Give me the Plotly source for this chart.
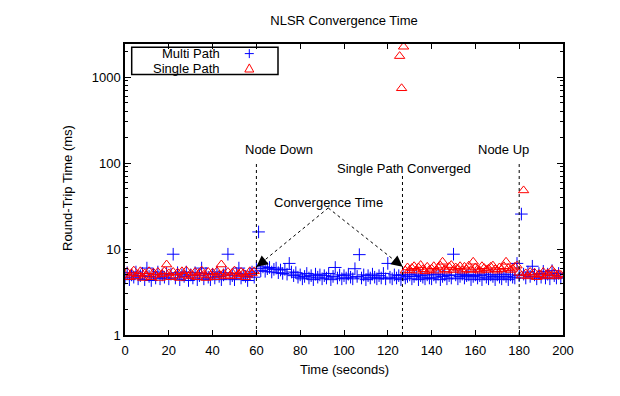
import numpy as np
import plotly.graph_objects as go

# ---------------- data ----------------
multi_t = list(range(0, 200))
multi_rtt = [
    4.6, 5.3, 4.4, 5.0, 4.7, 5.4, 4.5, 4.9, 5.2, 4.4,
    6.0, 4.8, 4.3, 5.1, 4.6, 5.4, 4.5, 5.0, 4.7, 5.2,
    4.5, 5.1, 8.7, 4.6, 5.3, 4.4, 5.0, 4.8, 5.4, 4.3,
    5.0, 4.6, 5.3, 4.4, 4.9, 6.0, 4.5, 5.2, 4.7, 4.4,
    5.1, 4.6, 5.4, 4.8, 4.4, 5.0, 5.3, 8.7, 4.5, 4.9,
    4.4, 5.2, 6.0, 4.6, 5.0, 4.8, 4.3, 5.1, 5.4, 4.7,
    5.9, 15.8, 5.6, 6.2, 5.5, 5.9, 6.1, 5.4, 5.8, 6.0,
    5.3, 5.7, 5.2, 5.8, 5.1, 6.8, 5.4, 4.9, 5.3, 4.7,
    5.0, 4.5, 4.8, 5.2, 4.6, 4.9, 4.4, 5.1, 4.7, 5.0,
    4.5, 4.9, 4.6, 5.2, 4.4, 4.8, 6.1, 4.6, 5.0, 4.5,
    4.9, 4.6, 5.1, 4.7, 4.5, 5.9, 4.8, 8.6, 4.6, 5.0,
    4.4, 4.9, 4.6, 5.1, 4.7, 4.5, 4.9, 4.6, 5.2, 4.5,
    6.8, 4.7, 4.5, 5.0, 4.6, 4.9, 4.4, 5.0, 4.6, 4.8,
    5.0, 4.5, 4.8, 5.1, 4.4, 4.9, 4.7, 4.5, 5.0, 4.6,
    4.5, 5.0, 4.7, 5.1, 4.4, 4.8, 5.0, 4.5, 4.9, 4.6,
    8.7, 5.0, 4.5, 4.8, 5.1, 4.6, 4.9, 5.0, 4.4, 4.8,
    5.0, 4.6, 4.9, 4.4, 5.1, 4.7, 4.5, 5.0, 4.8, 4.4,
    5.0, 4.7, 4.5, 5.1, 4.8, 4.4, 5.0, 4.7, 4.6, 6.8,
    4.9, 25.5, 5.1, 4.6, 5.4, 4.8, 6.3, 5.0, 4.5, 5.2,
    4.7, 5.5, 4.6, 5.1, 4.5, 5.6, 4.9, 4.6, 5.2, 4.6,
]

single_t = list(range(0, 60)) + [125.4, 126.3, 127.2] + list(range(128, 200))
single_rtt = [
    5.0, 5.4, 4.7, 5.2, 5.6, 4.8, 5.1, 5.5, 4.6, 5.2,
    4.9, 5.5, 4.7, 5.3, 5.0, 5.4, 4.6, 5.1, 5.5, 6.6,
    5.2, 4.7, 5.4, 4.9, 5.3, 4.6, 5.5, 5.0, 5.6, 4.8,
    5.2, 4.9, 5.4, 4.7, 5.3, 5.6, 5.0, 4.6, 5.4, 4.9,
    5.3, 4.7, 5.5, 5.0, 6.6, 5.2, 4.8, 5.4, 4.9, 5.3,
    5.6, 4.8, 5.1, 5.4, 5.2, 4.7, 5.0, 5.5, 5.2, 5.5,
    1750, 740, 2250,
    5.6, 6.1,
    5.7, 6.0, 6.3, 5.6, 6.1, 6.5, 5.8, 5.5, 6.2, 5.7,
    5.9, 6.3, 5.6, 6.1, 6.4, 7.1, 5.8, 5.6, 6.2, 6.5,
    5.7, 6.1, 5.9, 6.3, 5.6, 6.2, 5.8, 6.4, 5.7, 7.1,
    6.1, 5.8, 5.6, 6.3, 6.0, 5.7, 5.9, 6.2, 6.4, 5.8,
    5.6, 6.1, 5.8, 6.3, 7.1, 6.0, 5.7, 5.9, 6.2, 6.4,
    5.3, 4.9, 48.0, 5.2, 4.8, 5.4, 5.0, 5.3, 4.7, 5.1,
    5.0, 5.4, 4.8, 5.2, 4.9, 5.7, 5.3, 4.8, 5.1, 5.0,
]

x_ticks = [0, 20, 40, 60, 80, 100, 120, 140, 160, 180, 200]
y_ticks = [1, 10, 100, 1000]
y_tick_text = ["1", "10", "100", "1000"]

event_t = [60, 126.7, 180]
event_line_top = [100, 74, 100]
event_labels = ["Node Down", "Single Path Converged", "Node Up"]
event_label_x = [70.4, 127.3, 173.0]
event_label_y = [145, 87, 145]

conv_label = "Convergence Time"
conv_label_xy = (92.7, 35.0)
conv_arrow_from = (92.8, 30.0)
conv_arrow_to = [(60.0, 6.2), (126.8, 6.2)]

FONT = "Liberation Sans, Arial, Helvetica, sans-serif"
BLUE = "#0000ff"
RED = "#ff0000"

# page body has an 8px margin: shrink the figure so the plot lands where the reference has it
W, H = 612, 388
ML, MR, MT, MB = 117, 57, 36, 61
PW, PH = W - ML - MR, H - MT - MB

fig = go.Figure()
fig.add_trace(go.Scatter(
    x=multi_t, y=multi_rtt, mode="markers", name="Multi Path",
    marker=dict(symbol="cross-thin", size=9, line=dict(color=BLUE, width=1), color=BLUE),
    showlegend=False))
fig.add_trace(go.Scatter(
    x=single_t, y=single_rtt, mode="markers", name="Single Path",
    marker=dict(symbol="triangle-up-open", size=9, line=dict(color=RED, width=1), color=RED),
    showlegend=False))

shapes = []
annotations = []

# event lines + labels
for t, top, lab, lx, ly in zip(event_t, event_line_top, event_labels, event_label_x, event_label_y):
    shapes.append(dict(type="line", xref="x", yref="y", x0=t, x1=t, y0=1, y1=top,
                       line=dict(color="black", width=1, dash="dot")))
    annotations.append(dict(x=lx, y=np.log10(ly), xref="x", yref="y", text=lab,
                            showarrow=False, font=dict(family=FONT, size=13, color="black"),
                            xanchor="center", yanchor="middle"))

# convergence arrows
annotations.append(dict(x=conv_label_xy[0], y=np.log10(conv_label_xy[1]), xref="x", yref="y",
                        text=conv_label, showarrow=False,
                        font=dict(family=FONT, size=13, color="black"),
                        xanchor="center", yanchor="middle"))
for (tx, ty) in conv_arrow_to:
    shapes.append(dict(type="line", xref="x", yref="y", x0=conv_arrow_from[0], y0=conv_arrow_from[1],
                       x1=tx, y1=ty, line=dict(color="black", width=1, dash="dot")))
    sign = 1 if tx < conv_arrow_from[0] else -1
    annotations.append(dict(x=tx, y=np.log10(ty), xref="x", yref="y", text="",
                            showarrow=True, arrowhead=2, arrowsize=1.5, arrowwidth=1.5,
                            arrowcolor="black", ax=sign * 10, ay=-8, standoff=0))

# legend (gnuplot-style: text then symbol, inside a box)
lx0, lx1 = (131.7 - 125) / PW, (278 - 125) / PW
ly0, ly1 = (335 - 74.5) / PH, (335 - 47.3) / PH
shapes.append(dict(type="rect", xref="paper", yref="paper", x0=lx0, x1=lx1, y0=ly0, y1=ly1,
                   line=dict(color="black", width=1.5), fillcolor="rgba(0,0,0,0)"))
leg_text_x = (221 - 125) / PW
leg_sym_x = (249.3 - 125) / PW
leg_rows = [("Multi Path", (335 - 53.6) / PH), ("Single Path", (335 - 68.4) / PH)]
for txt, yy in leg_rows:
    annotations.append(dict(x=leg_text_x, y=yy, xref="paper", yref="paper", text=txt,
                            showarrow=False, xanchor="right", yanchor="middle", borderpad=0,
                            font=dict(family=FONT, size=13, color="black")))
dx, dy = 4.5 / PW, 4.5 / PH
py = leg_rows[0][1]
shapes.append(dict(type="line", xref="paper", yref="paper", x0=leg_sym_x - dx, x1=leg_sym_x + dx,
                   y0=py, y1=py, line=dict(color=BLUE, width=1)))
shapes.append(dict(type="line", xref="paper", yref="paper", x0=leg_sym_x, x1=leg_sym_x,
                   y0=py - dy, y1=py + dy, line=dict(color=BLUE, width=1)))
py = leg_rows[1][1]
shapes.append(dict(type="path", xref="paper", yref="paper",
                   path=f"M {leg_sym_x - dx} {py - dy * 0.8} L {leg_sym_x + dx} {py - dy * 0.8} L {leg_sym_x} {py + dy} Z",
                   line=dict(color=RED, width=1), fillcolor="rgba(0,0,0,0)"))

# axis titles
annotations.append(dict(x=0.5, y=(335 - 369) / PH, xref="paper", yref="paper", text="Time (seconds)",
                        showarrow=False, xanchor="center", yanchor="middle",
                        font=dict(family=FONT, size=13, color="black")))
annotations.append(dict(x=(67 - 125) / PW, y=(335 - 188) / PH, xref="paper", yref="paper",
                        text="Round-Trip Time (ms)",
                        showarrow=False, xanchor="center", yanchor="middle", textangle=-90,
                        font=dict(family=FONT, size=13, color="black")))

fig.update_layout(
    width=W, height=H,
    margin=dict(l=ML, r=MR, t=MT, b=MB, autoexpand=False),
    paper_bgcolor="white", plot_bgcolor="white",
    font=dict(family=FONT, size=13, color="black"),
    title=dict(text="NLSR Convergence Time", x=(344 - 8) / W, xanchor="center",
               y=1 - (20 - 8) / H, yanchor="middle", yref="container",
               font=dict(family=FONT, size=13, color="black")),
    shapes=shapes, annotations=annotations, showlegend=False,
)
fig.update_xaxes(range=[0, 200], tickvals=x_ticks, ticks="inside", ticklen=5, tickwidth=1,
                 tickcolor="black", showline=True, linecolor="black", linewidth=1.5,
                 mirror="ticks", showgrid=False, zeroline=False, ticklabelstandoff=3,
                 tickfont=dict(family=FONT, size=13, color="black"))
fig.update_yaxes(type="log", range=[0, 3.384], tickvals=y_ticks, ticktext=y_tick_text,
                 ticks="inside", ticklen=6, tickwidth=1, tickcolor="black",
                 showline=True, linecolor="black", linewidth=1.5, mirror="ticks",
                 showgrid=False, zeroline=False,
                 minor=dict(ticks="inside", ticklen=3, tickcolor="black", dtick="D1", showgrid=False),
                 tickfont=dict(family=FONT, size=13, color="black"))

fig.write_html("out.html")
